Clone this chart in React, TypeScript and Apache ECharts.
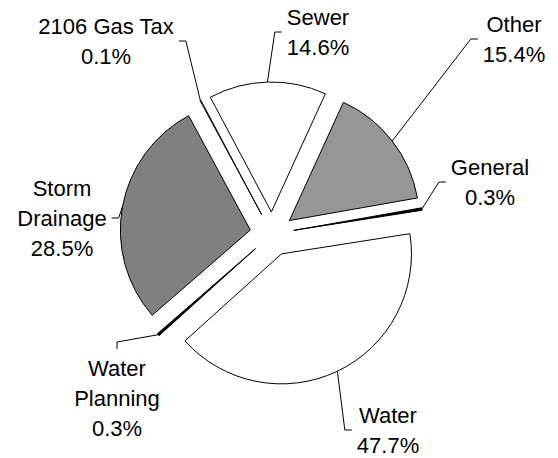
import React, { useEffect, useRef } from 'react';
import * as echarts from 'echarts';

// Slice names (with the line breaks used in the labels), sizes read from the picture's angles,
// the percentage texts printed on the chart, and the fills.
const categories = ['Sewer', 'Other', 'General', 'Water', 'Water\nPlanning', 'Storm\nDrainage', '2106 Gas Tax'];
const sliceValues = [14.6, 15.4, 0.3, 40.8, 0.3, 28.5, 0.1];
const percentLabels = ['14.6%', '15.4%', '0.3%', '47.7%', '0.3%', '28.5%', '0.1%'];
const sliceColors = ['#ffffff', '#969696', '#000000', '#ffffff', '#000000', '#808080', '#ffffff'];

// Label placement: centre x, centre y, side where the leader line meets the label
const labelPlacement: [number, number, string][] = [
  [318, 32, 'left'],
  [514, 39, 'left'],
  [490, 182, 'left'],
  [388, 430, 'left'],
  [117, 398, 'top'],
  [62, 218, 'right'],
  [106, 41, 'right'],
];

const CENTER = [272, 234];
const RADIUS = 130;
const EXPLODE = 22;
const START_CW = -28; // degrees, clockwise from 12 o'clock

function buildOption() {
  const total = sliceValues.reduce((a, b) => a + b, 0);
  let cum = 0;
  const series = sliceValues.map((v, i) => {
    const mid = ((START_CW + (360 * (cum + v / 2)) / total) * Math.PI) / 180;
    cum += v;
    const cx = CENTER[0] + EXPLODE * Math.sin(mid);
    const cy = CENTER[1] - EXPLODE * Math.cos(mid);
    const [lx, ly, side] = labelPlacement[i];
    return {
      type: 'pie',
      center: [cx, cy],
      radius: RADIUS,
      startAngle: 90 - START_CW,
      clockwise: true,
      avoidLabelOverlap: false,
      silent: true,
      z: 2,
      data: categories.map((name, j) => ({
        name,
        value: sliceValues[j],
        itemStyle:
          j === i
            ? { color: sliceColors[j], borderColor: '#000000', borderWidth: 1, opacity: 1 }
            : { color: 'rgba(0,0,0,0)', borderWidth: 0, opacity: 0 },
        label: { show: j === i },
        labelLine: { show: j === i },
      })),
      label: {
        show: true,
        position: 'outside',
        formatter: () => `${categories[i]}\n${percentLabels[i]}`,
        color: '#000000',
        fontFamily: 'Liberation Sans, Arial, sans-serif',
        fontSize: 22,
        lineHeight: 30,
        overflow: 'none',
      },
      labelLine: {
        show: true,
        length: 6,
        length2: 6,
        lineStyle: { color: '#000000', width: 1 },
      },
      labelLayout: (params: any) => {
        const w = params.labelRect.width;
        const h = params.labelRect.height;
        const pts = params.labelLinePoints;
        let end: number[];
        let turn: number[];
        if (side === 'left') {
          end = [lx - w / 2 - 5, ly];
          turn = [end[0] - 7, ly];
        } else if (side === 'right') {
          end = [lx + w / 2 + 5, ly];
          turn = [end[0] + 7, ly];
        } else {
          end = [lx, ly - h / 2 - 4];
          turn = [lx, end[1] - 7];
        }
        const out: any = { x: lx, y: ly, align: 'center', verticalAlign: 'middle' };
        if (pts && pts.length) out.labelLinePoints = [pts[0], turn, end];
        return out;
      },
    };
  });
  return {
    animation: false,
    backgroundColor: '#ffffff',
    series,
  };
}

export default function App() {
  const ref = useRef<HTMLDivElement>(null);
  useEffect(() => {
    if (!ref.current) return;
    const chart = echarts.init(ref.current, null, { renderer: 'svg' });
    chart.setOption(buildOption() as any);
    return () => chart.dispose();
  }, []);
  return (
    <div
      ref={ref}
      style={{ position: 'absolute', left: 0, top: 0, width: 558, height: 458 }}
    />
  );
}
